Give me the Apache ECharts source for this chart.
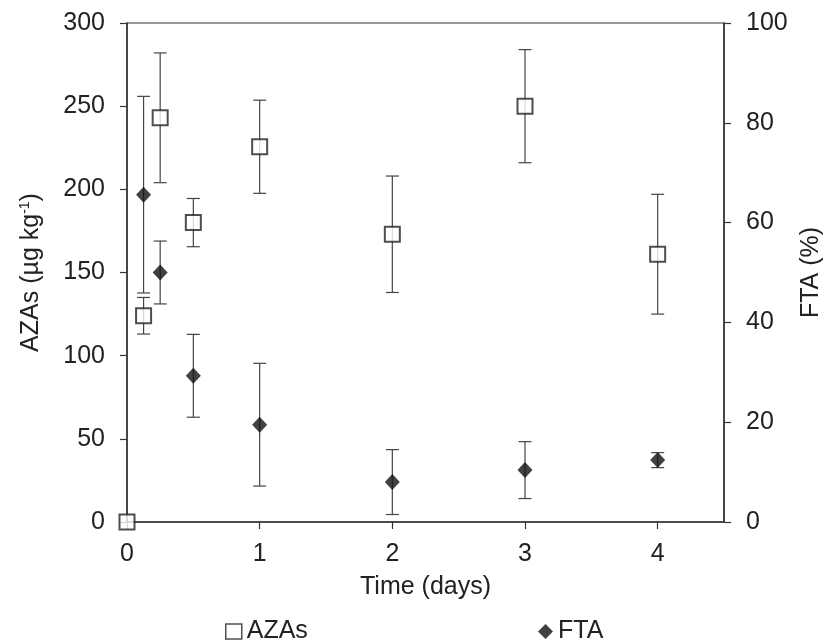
<!DOCTYPE html>
<html><head><meta charset="utf-8">
<script src="https://cdn.jsdelivr.net/npm/echarts@6/dist/echarts.min.js"></script>
<style>html,body{margin:0;padding:0;background:#fff}#c{width:826px;height:642px}</style>
</head><body><div id="c"></div>
<script>
// ---- data ----
const azaTimes  = [0, 0.125, 0.25, 0.5, 1, 2, 3, 4];
const azaValues = [0, 124, 243, 180, 225.6, 173, 250, 161];
const azaErrors = [0, 11, 39, 14.5, 28, 35, 34, 36];
const ftaTimes  = [0.125, 0.25, 0.5, 1, 2, 3, 4];
const ftaValues = [65.6, 50, 29.3, 19.5, 8, 10.4, 12.4];
const ftaErrors = [19.7, 6.3, 8.3, 12.3, 6.5, 5.7, 1.5];
const xTicks = [0, 1, 2, 3, 4];

const FONT = 'Liberation Sans, Arial, sans-serif';
const TXT = '#222';
const AX = '#333';

function points(xs, ys) { return xs.map((x, i) => [x, ys[i]]); }
function bars(xs, ys, es) {
  const out = [];
  xs.forEach((x, i) => { if (es[i] > 0) out.push([x, ys[i] - es[i], ys[i] + es[i]]); });
  return out;
}
function errorBarRender(params, api) {
  const x = api.value(0), lo = api.value(1), hi = api.value(2);
  const top = api.coord([x, hi]);
  const bot = api.coord([x, lo]);
  const hw = 6.5;
  const style = { stroke: '#444', lineWidth: 1.2 };
  return { type: 'group', children: [
    { type: 'line', shape: { x1: top[0], y1: top[1], x2: bot[0], y2: bot[1] }, style },
    { type: 'line', shape: { x1: top[0] - hw, y1: top[1], x2: top[0] + hw, y2: top[1] }, style },
    { type: 'line', shape: { x1: bot[0] - hw, y1: bot[1], x2: bot[0] + hw, y2: bot[1] }, style }
  ]};
}

const chart = echarts.init(document.getElementById('c'), null, { renderer: 'canvas' });
const axisLineStyle = { show: true, lineStyle: { color: AX, width: 1.5 } };
const tick = { show: true, inside: false, length: 7, lineStyle: { color: AX, width: 1.2 } };
const labelStyle = { color: TXT, fontFamily: FONT, fontSize: 25 };

chart.setOption({
  animation: false,
  backgroundColor: '#fff',
  grid: { left: 127, right: 102, top: 23, bottom: 120, show: true, borderColor: AX, borderWidth: 1.2,
          containLabel: false, outerBoundsMode: 'none' },
  xAxis: {
    type: 'value', min: 0, max: 4.5, interval: 1,
    name: 'Time (days)', nameLocation: 'middle', nameGap: 53,
    nameTextStyle: { color: TXT, fontFamily: FONT, fontSize: 25 },
    axisLine: axisLineStyle,
    axisTick: Object.assign({}, tick, { customValues: xTicks }),
    axisLabel: Object.assign({}, labelStyle, { margin: 20, customValues: xTicks }),
    splitLine: { show: false }
  },
  yAxis: [{
    type: 'value', min: 0, max: 300, interval: 50, position: 'left',
    name: 'AZAs (µg kg{sup|-1})', nameLocation: 'middle', nameGap: 83, nameRotate: 90,
    nameTextStyle: { color: TXT, fontFamily: FONT, fontSize: 25,
      rich: { sup: { fontSize: 14, fontFamily: FONT, color: TXT, verticalAlign: 'top', padding: [0, 0, 12, 0] } } },
    axisLine: axisLineStyle, axisTick: tick,
    axisLabel: Object.assign({}, labelStyle, { margin: 22 }),
    splitLine: { show: false }
  }, {
    type: 'value', min: 0, max: 100, interval: 20, position: 'right',
    name: 'FTA (%)', nameLocation: 'middle', nameGap: 72, nameRotate: 90,
    nameTextStyle: { color: TXT, fontFamily: FONT, fontSize: 25 },
    axisLine: axisLineStyle, axisTick: tick,
    axisLabel: Object.assign({}, labelStyle, { margin: 22 }),
    splitLine: { show: false }
  }],
  legend: [{
    left: 220, top: 614, itemWidth: 16, itemHeight: 15, selectedMode: false,
    textStyle: { color: TXT, fontFamily: FONT, fontSize: 25 },
    data: [{ name: 'AZAs', icon: 'rect', itemStyle: { color: '#fff', borderColor: '#222', borderWidth: 1.5 } }]
  }, {
    left: 533, top: 614, itemWidth: 15, itemHeight: 15, selectedMode: false,
    textStyle: { color: TXT, fontFamily: FONT, fontSize: 25 },
    data: [{ name: 'FTA', icon: 'diamond', itemStyle: { color: '#111' } }]
  }],
  series: [{
    name: 'AZAs error', type: 'custom', yAxisIndex: 0, z: 1, silent: true,
    renderItem: errorBarRender, encode: { x: 0, y: [1, 2] },
    data: bars(azaTimes, azaValues, azaErrors)
  }, {
    name: 'FTA error', type: 'custom', yAxisIndex: 1, z: 1, silent: true,
    renderItem: errorBarRender, encode: { x: 0, y: [1, 2] },
    data: bars(ftaTimes, ftaValues, ftaErrors)
  }, {
    name: 'FTA', type: 'scatter', yAxisIndex: 1, z: 3, clip: false,
    symbol: 'diamond', symbolSize: [15, 16],
    itemStyle: { color: '#111' },
    data: points(ftaTimes, ftaValues)
  }, {
    name: 'AZAs', type: 'scatter', yAxisIndex: 0, z: 4, clip: false,
    symbol: 'rect', symbolSize: 15,
    itemStyle: { color: '#fff', borderColor: '#222', borderWidth: 2 },
    data: points(azaTimes, azaValues)
  }]
});
</script></body></html>
